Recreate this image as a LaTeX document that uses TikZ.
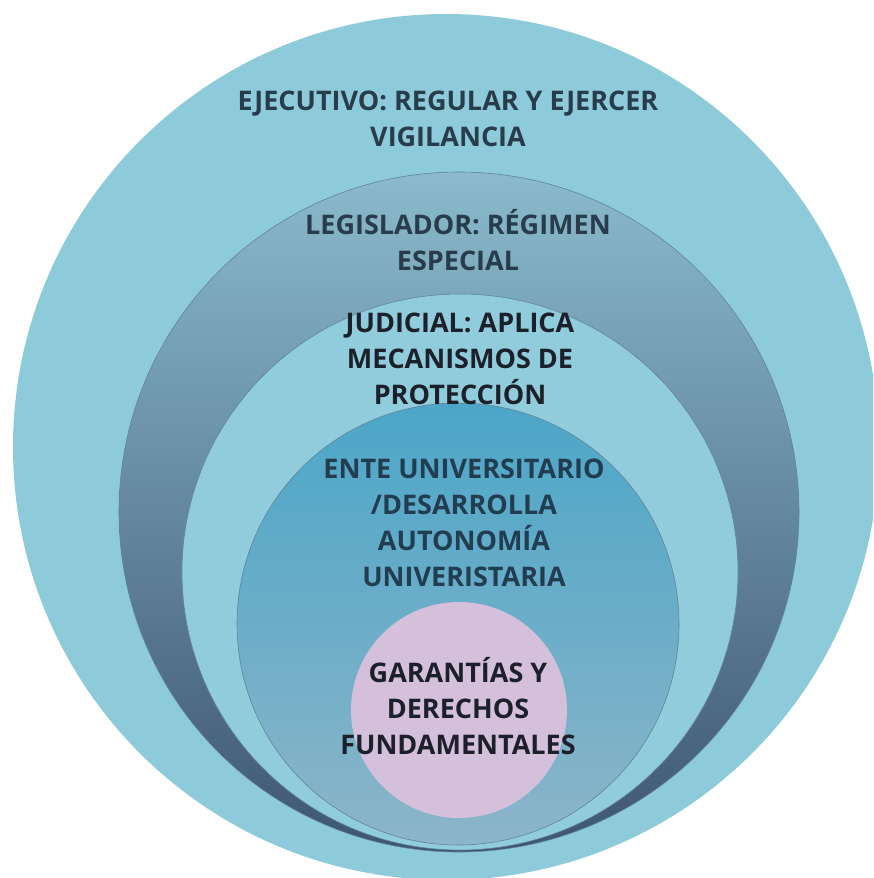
\documentclass[tikz,border=0pt]{standalone}
\usepackage{fontspec}
\setmainfont{Open Sans}
\definecolor{outerblue}{RGB}{142,203,218}
\definecolor{ringtop}{RGB}{138,186,204}
\definecolor{ringmid}{RGB}{104,146,168}
\definecolor{ringbot}{RGB}{62,86,112}
\definecolor{judblue}{RGB}{144,204,220}
\definecolor{entetop}{RGB}{76,166,200}
\definecolor{entemid}{RGB}{102,172,200}
\definecolor{entebot}{RGB}{140,181,200}
\definecolor{pinkfill}{RGB}{213,192,219}
\definecolor{edgeline}{RGB}{96,132,152}
\definecolor{txtslate}{RGB}{40,60,75}
\definecolor{txtdark}{RGB}{28,32,42}
\definecolor{txtente}{RGB}{34,60,80}
\tikzset{
  lbl/.style={inner sep=0pt, align=center, font=\bfseries\fontsize{27}{36}\selectfont},
  ring/.style={draw=edgeline, line width=0.6pt}
}
\begin{document}
\begin{tikzpicture}[x=1pt,y=-1pt]
\useasboundingbox (0,0) rectangle (873,878);
\clip (0,0) rectangle (873,878);
\fill[white] (0,0) rectangle (873,878);
% outer circle
\fill[outerblue] (446,447) circle[radius=433pt];
% legislador ring (shaded)
\shade[top color=ringtop, middle color=ringmid, bottom color=ringbot, draw=edgeline, line width=0.6pt] (459,512) circle[radius=340pt];
% judicial
\fill[judblue, ring] (460,572) circle[radius=278pt];
% ente universitario
\shade[top color=entetop, middle color=entemid, bottom color=entebot, draw=edgeline, line width=0.6pt] (458,624) circle[radius=221pt];
% pink core
\fill[pinkfill] (459,710) circle[radius=108pt];
% labels
\node[lbl, text=txtslate] (ejec) at (448,120.8) {\strut EJECUTIVO: REGULAR Y EJERCER\\\strut VIGILANCIA};
\node[lbl, text=txtslate] (legis) at (458,244.8) {\strut LEGISLADOR: RÉGIMEN\\\strut ESPECIAL};
\node[lbl, text=txtdark] (judi) at (460,360.8) {\strut JUDICIAL: APLICA\\\strut MECANISMOS DE\\\strut PROTECCIÓN};
\node[lbl, text=txtente] (ente) at (464,524.8) {\strut ENTE UNIVERSITARIO\\\strut /DESARROLLA\\\strut AUTONOMÍA\\\strut UNIVERISTARIA};
\node[lbl, text=txtdark] (garan) at (458,710.8) {\strut GARANTÍAS Y\\\strut DERECHOS\\\strut FUNDAMENTALES};
\end{tikzpicture}
\end{document}
